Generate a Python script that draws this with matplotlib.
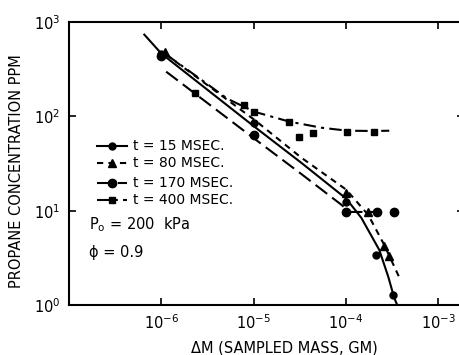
import numpy as np
import matplotlib
matplotlib.use('Agg')
import matplotlib.pyplot as plt

matplotlib.rcParams.update({'font.family': 'DejaVu Sans', 'font.size': 10})

# measured points (sampled mass in g, propane in ppm)
m15 = [1.0e-6, 1.0e-5, 1.0e-4, 2.1e-4, 3.2e-4]
c15 = [464, 86, 12.4, 3.4, 1.28]
m80 = [1.1e-6, 1.0e-4, 1.75e-4, 2.6e-4, 2.95e-4]
c80 = [480, 15.5, 9.7, 4.2, 3.3]
m170 = [1.0e-6, 1.0e-5, 1.0e-4, 2.2e-4, 3.3e-4]
c170 = [440, 64, 9.7, 9.7, 9.7]
m400 = [2.33e-6, 7.9e-6, 1.02e-5, 2.44e-5, 3.13e-5, 4.43e-5, 1.04e-4, 2.04e-4]
c400 = [179, 133, 112, 88, 61, 67, 69, 69]

# drawn curves
f15_m = [6.55e-7, 1.0e-6, 1.02e-5, 3.29e-5, 1.01e-4, 1.47e-4, 2.30e-4, 2.88e-4, 3.34e-4, 3.6e-4]
f15_c = [736, 464, 77.8, 32.2, 13.4, 8.4, 3.84, 1.99, 1.19, 1.0]
f80_m = [1.13e-6, 1.02e-5, 3.29e-5, 1.01e-4, 1.75e-4, 2.6e-4, 3.8e-4]
f80_c = [452, 92, 36.5, 16.7, 9.0, 4.35, 1.95]
f170_m = [1.13e-6, 1.02e-5, 3.29e-5, 8.9e-5, 1.1e-4, 2.2e-4]
f170_c = [298, 58, 24.5, 11.6, 9.7, 9.7]
f400_m = [1.13e-6, 2.71e-6, 5.19e-6, 1.02e-5, 2.44e-5, 5.4e-5, 1.04e-4, 2.04e-4, 2.95e-4]
f400_c = [452, 245, 154, 112, 88, 75.9, 70.5, 70, 70.5]

fig = plt.figure(figsize=(4.59, 3.55), dpi=100)
ax = fig.add_axes([0.1503, 0.1408, 0.86, 0.797])

ax.plot(f15_m, f15_c, color='k', lw=1.5, ls='-')
ax.plot(f80_m, f80_c, color='k', lw=1.5, ls=(0, (3, 2.5)))
ax.plot(f170_m, f170_c, color='k', lw=1.5, ls=(0, (7, 3)))
ax.plot(f400_m, f400_c, color='k', lw=1.5, ls=(0, (6, 2.5, 1.5, 2.5)))

ax.plot(m15, c15, 'o', color='k', ms=5)
ax.plot(m80, c80, '^', color='k', ms=6)
ax.plot(m170, c170, 'o', color='k', ms=6)
ax.plot(m400, c400, 's', color='k', ms=5)

ax.set_xscale('log')
ax.set_yscale('log')
ax.set_xlim(1e-7, 10 ** (-7 + 0.86 * 459 / 92.3))
ax.set_ylim(1, 1000)
ax.set_xticks([1e-6, 1e-5, 1e-4, 1e-3])
ax.set_yticks([1, 10, 100, 1000])
ax.minorticks_off()
ax.tick_params(direction='in', length=5, width=1.2, top=True, right=True,
               labelsize=10.5, pad=6)
for s in ax.spines.values():
    s.set_linewidth(1.5)

ax.set_xlabel('ΔM (SAMPLED MASS, GM)', fontsize=10.5)
ax.xaxis.set_label_coords((284 - 69) / (0.86 * 459), -0.125)
ax.set_ylabel('PROPANE CONCENTRATION PPM', fontsize=10.5)
ax.yaxis.set_label_coords(-0.115, 0.473)

# hand-drawn legend
labels = ['t = 15 MSEC.', 't = 80 MSEC.', 't = 170 MSEC.', 't = 400 MSEC.']
styles = [('-', 'o', 5), ((0, (3, 2.5)), '^', 6), ((0, (7, 3)), 'o', 6),
          ((0, (6, 2.5, 1.5, 2.5)), 's', 5)]
rows = [146, 163, 183, 200]
for lab, (ls, mk, ms), py in zip(labels, styles, rows):
    yf = 1 - (py - 22) / (305 - 22)
    x0 = (97 - 69) / (0.86 * 459)
    x1 = (127 - 69) / (0.86 * 459)
    ax.plot([x0, x1], [yf, yf], color='k', lw=1.5, ls=ls, transform=ax.transAxes)
    ax.plot([(x0 + x1) / 2], [yf], mk, color='k', ms=ms, transform=ax.transAxes)
    ax.text((133 - 69) / (0.86 * 459), yf, lab, transform=ax.transAxes,
            va='center', ha='left', fontsize=10)

ax.text((89 - 69) / (0.86 * 459), 1 - (225 - 22) / 283, r'P$_\mathregular{o}$ = 200  kPa',
        transform=ax.transAxes, va='center', ha='left', fontsize=10.5)
ax.text((89 - 69) / (0.86 * 459), 1 - (252 - 22) / 283, 'ϕ = 0.9',
        transform=ax.transAxes, va='center', ha='left', fontsize=10.5)

fig.savefig('out.png', dpi=100)
